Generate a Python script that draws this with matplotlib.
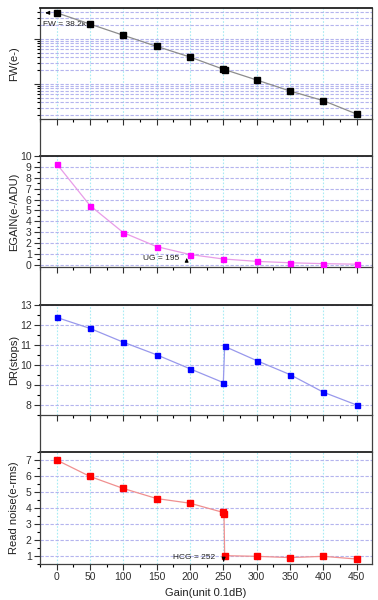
import matplotlib
matplotlib.use("Agg")
import matplotlib.pyplot as plt
from matplotlib.lines import Line2D
from matplotlib.ticker import MultipleLocator, LogLocator, NullFormatter

plt.rcParams['font.family'] = ['Liberation Sans', 'DejaVu Sans']

# ---- data ----
gain_ticks = [0, 50, 100, 150, 200, 250, 300, 350, 400, 450]

fw_gain = [0, 50, 100, 150, 200, 250, 252, 300, 350, 400, 450]
fw_vals = [38200, 21500, 12100, 6870, 3980, 2130, 2090, 1230, 700, 427, 215]

egain_gain = [0, 50, 100, 150, 200, 250, 300, 350, 400, 450]
egain_vals = [9.3, 5.45, 2.95, 1.66, 0.93, 0.52, 0.30, 0.17, 0.09, 0.04]

dr_gain = [0, 50, 100, 150, 200, 250, 252, 300, 350, 400, 450]
dr_vals = [12.38, 11.83, 11.14, 10.51, 9.81, 9.12, 10.93, 10.22, 9.52, 8.64, 8.0]

rn_gain = [0, 50, 100, 150, 200, 250, 251, 252, 300, 350, 400, 450]
rn_vals = [7.0, 5.97, 5.22, 4.59, 4.30, 3.72, 3.61, 1.02, 0.98, 0.90, 0.98, 0.81]

W, H = 378, 600
fig = plt.figure(figsize=(W / 100, H / 100), dpi=100)

left_px, right_px = 40, 372
panels_px = [(8, 119), (156, 267), (305, 415), (452, 564)]

def rect(top, bot):
    return [left_px / W, 1 - bot / H, (right_px - left_px) / W, (bot - top) / H]

axes = [fig.add_axes(rect(t, b)) for t, b in panels_px]

# side lines in the gaps between panels
for i in range(3):
    y0 = 1 - panels_px[i][1] / H
    y1 = 1 - panels_px[i + 1][0] / H
    for xp in (left_px, right_px):
        fig.add_artist(Line2D([xp / W, xp / W], [y0, y1], color='#404040', lw=0.9))

grid_v = dict(color='#a8ecf4', linestyle=(0, (1.5, 1.5)), linewidth=0.8)
grid_h = dict(color='#b4b4ee', linestyle=(0, (3, 1.5)), linewidth=0.8)

label_x = (19 - left_px) / (right_px - left_px)
LBL = 8

for i, ax in enumerate(axes):
    ax.set_xlim(-25, 473)
    ax.xaxis.set_major_locator(MultipleLocator(50))
    ax.xaxis.set_minor_locator(MultipleLocator(25))
    ax.tick_params(axis='both', which='major', direction='out', length=4, width=0.8,
                   labelsize=7.5, colors='#303030', pad=2)
    ax.tick_params(axis='both', which='minor', direction='out', length=2, width=0.8)
    ax.tick_params(axis='x', which='both', top=False)
    ax.tick_params(axis='y', which='both', right=False)
    for s in ax.spines.values():
        s.set_color('#404040')
        s.set_linewidth(0.9)
    ax.spines['top'].set_linewidth(1.3)
    ax.spines['top'].set_color('#202020')
    ax.set_axisbelow(True)
    for g in gain_ticks:
        ax.axvline(g, zorder=0, **grid_v)
    if i < 3:
        ax.tick_params(axis='x', labelbottom=False)

# Panel 1: FW
ax = axes[0]
ax.set_yscale('log')
ax.set_ylim(167, 48900)
ax.yaxis.set_major_locator(LogLocator(base=10))
ax.yaxis.set_minor_locator(LogLocator(base=10, subs=range(2, 10)))
ax.yaxis.set_major_formatter(NullFormatter())
ax.yaxis.set_minor_formatter(NullFormatter())
for v in [200, 300, 400, 500, 600, 700, 800, 900, 1000, 2000, 3000, 4000, 5000,
          6000, 7000, 8000, 9000, 10000, 20000, 30000, 40000]:
    ax.axhline(v, zorder=0, **grid_h)
ax.plot(fw_gain, fw_vals, color='#8c8c8c', lw=0.9, marker='s', ms=5,
        mfc='black', mec='black', zorder=3)
ax.set_ylabel('FW(e-)', fontsize=LBL, color='#202020')
ax.annotate('', xy=(-21, fw_vals[0]), xytext=(-9, fw_vals[0]),
            arrowprops=dict(arrowstyle='-|>', color='black', lw=0.9,
                            mutation_scale=5))
ax.text(-21, 21500, 'FW = 38.2k', fontsize=6, va='center', ha='left',
        color='#202020', zorder=2)

# Panel 2: EGAIN
ax = axes[1]
ax.set_ylim(-0.22, 10.02)
ax.yaxis.set_major_locator(MultipleLocator(1))
ax.yaxis.set_minor_locator(MultipleLocator(0.5))
for v in range(0, 11):
    ax.axhline(v, zorder=0, **grid_h)
ax.plot(egain_gain, egain_vals, color='#e89ce8', lw=0.9, marker='s', ms=3.6,
        mfc='#ff00ff', mec='#ff00ff', zorder=3)
ax.set_ylabel('EGAIN(e-/ADU)', fontsize=LBL, color='#202020')
ax.annotate('', xy=(195, 0.85), xytext=(195, 0.15),
            arrowprops=dict(arrowstyle='-|>', color='black', lw=0.8,
                            mutation_scale=5))
ax.text(184, 0.52, 'UG = 195', fontsize=6, va='center', ha='right',
        color='#202020')

# Panel 3: DR
ax = axes[2]
ax.set_ylim(7.5, 13.0)
ax.yaxis.set_major_locator(MultipleLocator(1))
ax.yaxis.set_minor_locator(MultipleLocator(0.5))
for v in range(8, 14):
    ax.axhline(v, zorder=0, **grid_h)
ax.plot(dr_gain, dr_vals, color='#9898ec', lw=0.9, marker='s', ms=3.6,
        mfc='#0000ff', mec='#0000ff', zorder=3)
ax.set_ylabel('DR(stops)', fontsize=LBL, color='#202020')

# Panel 4: Read noise
ax = axes[3]
ax.set_ylim(0.5, 7.5)
ax.yaxis.set_major_locator(MultipleLocator(1))
ax.yaxis.set_minor_locator(MultipleLocator(0.5))
for v in range(1, 8):
    ax.axhline(v, zorder=0, **grid_h)
ax.plot(rn_gain, rn_vals, color='#f09090', lw=0.9, marker='s', ms=4,
        mfc='#ff0000', mec='#ff0000', zorder=3)
ax.set_ylabel('Read noise(e-rms)', fontsize=LBL, color='#202020')
ax.set_xlabel('Gain(unit 0.1dB)', fontsize=LBL, labelpad=4, color='#202020')
ax.annotate('', xy=(250.5, 0.5), xytext=(250.5, 0.88),
            arrowprops=dict(arrowstyle='-|>', color='black', lw=0.8,
                            mutation_scale=5))
ax.text(238, 0.92, 'HCG = 252', fontsize=6, va='center', ha='right',
        color='#202020')

for ax in axes:
    ax.yaxis.set_label_coords(label_x, 0.5)

fig.savefig('out.png', dpi=100)
